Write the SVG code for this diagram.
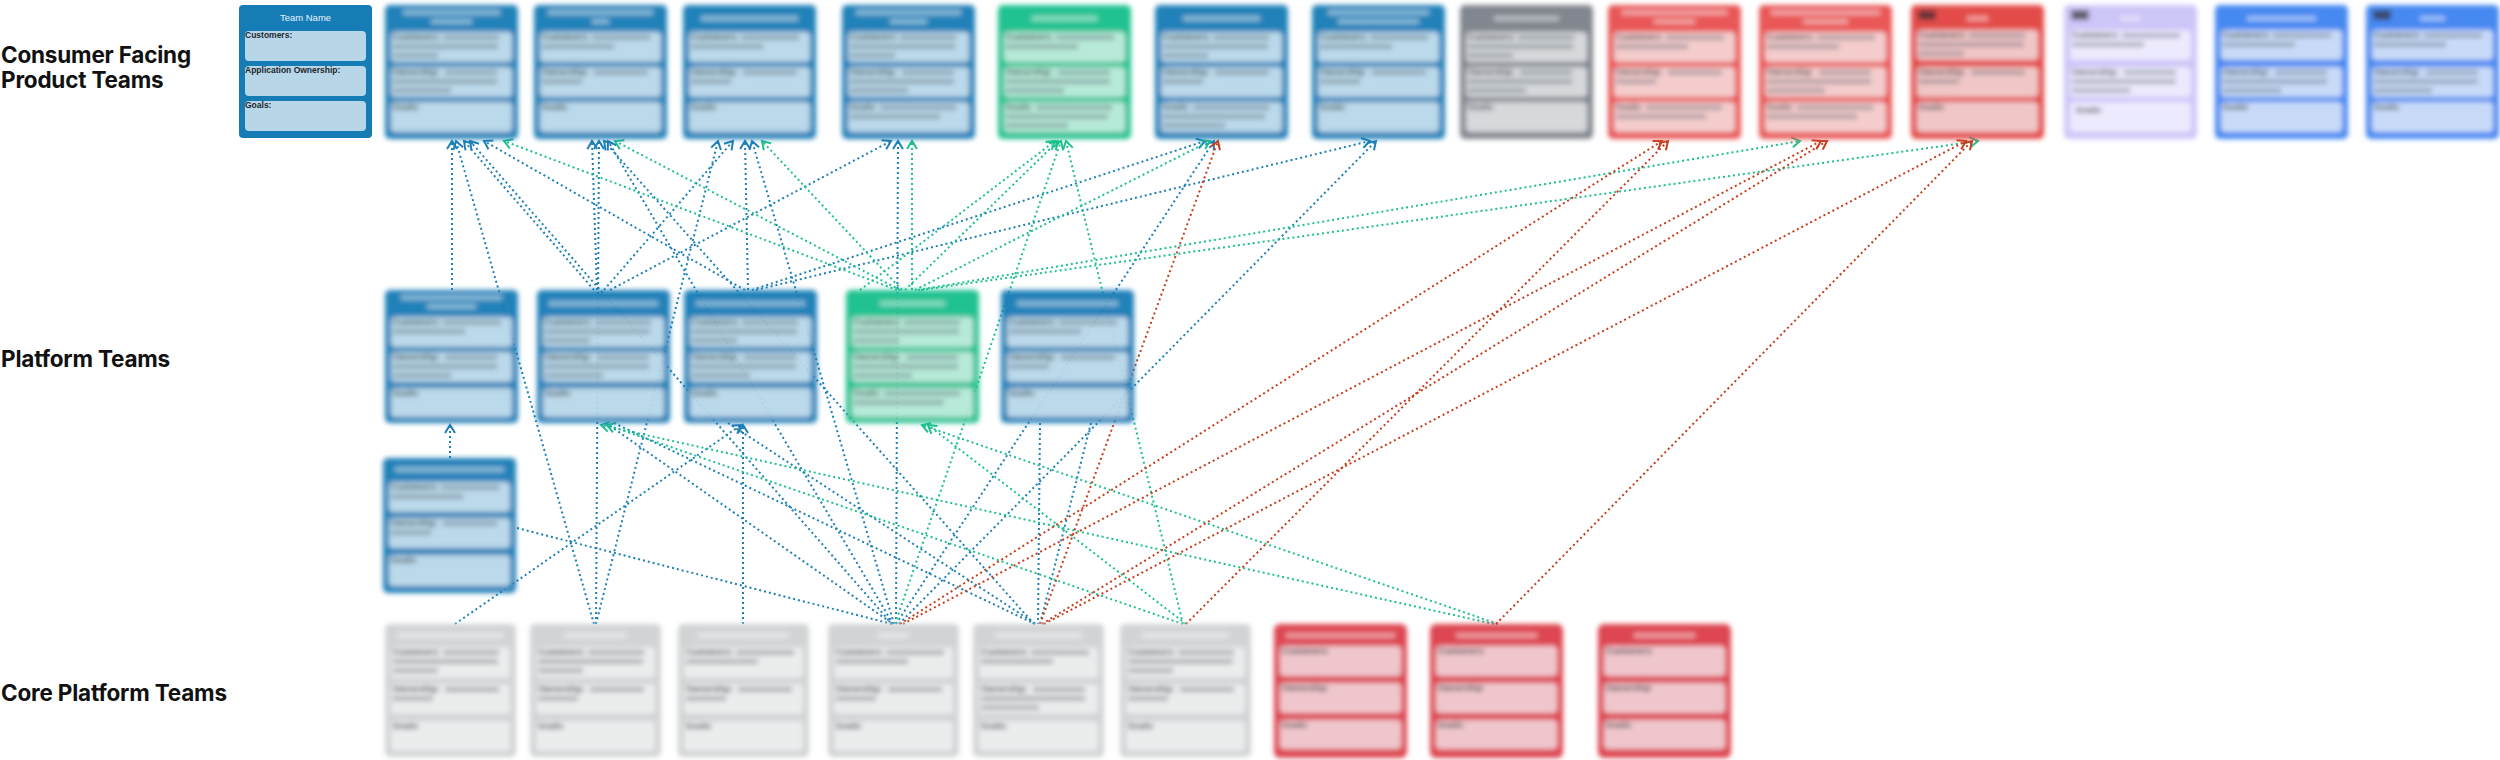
<svg xmlns="http://www.w3.org/2000/svg" xmlns:xlink="http://www.w3.org/1999/xlink" width="2500" height="760" viewBox="0 0 2500 760">
<style>
.rowlbl{font-family:Inter,"Liberation Sans",sans-serif;font-weight:700;font-size:22.5px;fill:#111;letter-spacing:-0.2px}
.lb{font-family:"Liberation Sans",Arial,sans-serif;font-weight:700;font-size:8.5px;fill:#1c262c}
.ttl{font-family:"Liberation Sans",Arial,sans-serif;font-size:9.5px;fill:#e8f3fa}
.sm{fill:#34444e;opacity:.34}
.st{fill:#fff;opacity:.45}
.tag{fill:#2e2226;opacity:.7}
.card{filter:url(#blur);opacity:.95}
.blue .bg{fill:#167cb6}.blue .in{fill:#b7d7e9}
.green .bg{fill:#17bf8c}.green .in{fill:#b4e9d7}
.grey .bg{fill:#7b8088}.grey .in{fill:#d4d6d9}
.red .bg{fill:#e84f4f}.red .in{fill:#f4caca}
.red2 .bg{fill:#e2423f}.red2 .in{fill:#f1c4c4}
.lav .bg{fill:#cbc3f8}.lav .in{fill:#ece9fd}
.bright .bg{fill:#3e83f1}.bright .in{fill:#c6d9f8}
.lgrey .bg{fill:#cfd1d3}.lgrey .in{fill:#eaebec}
.cred .bg{fill:#dc3e4a}.cred .in{fill:#efc4ca}
#connectors line{fill:none;stroke-width:2;stroke-dasharray:2 3}
.cb{stroke:#1f80b8}.cg{stroke:#1fc08f}.cr{stroke:#c43f1c}
.ab{marker-end:url(#mb)}.ag{marker-end:url(#mg)}.ar{marker-end:url(#mr)}
</style>
<defs>
<filter id="blur" x="-10%" y="-10%" width="120%" height="120%"><feGaussianBlur stdDeviation="2.4"/></filter>
<marker id="mb" viewBox="-10 -7 12 14" refX="0" refY="0" markerWidth="12" markerHeight="14" markerUnits="userSpaceOnUse" orient="auto"><path d="M-8,-5 L0,0 L-8,5" fill="none" stroke="#1f80b8" stroke-width="2"/></marker>
<marker id="mg" viewBox="-10 -7 12 14" refX="0" refY="0" markerWidth="12" markerHeight="14" markerUnits="userSpaceOnUse" orient="auto"><path d="M-8,-5 L0,0 L-8,5" fill="none" stroke="#1fc08f" stroke-width="2"/></marker>
<marker id="mr" viewBox="-10 -7 12 14" refX="0" refY="0" markerWidth="12" markerHeight="14" markerUnits="userSpaceOnUse" orient="auto"><path d="M-8,-5 L0,0 L-8,5" fill="none" stroke="#c43f1c" stroke-width="2"/></marker>
<g id="cA"><text class="lb" x="2" y="8">Customers:</text><rect class="sm" x="52" y="3" width="56" height="5"/><rect class="sm" x="2" y="12" width="105" height="5"/><rect class="sm" x="2" y="21" width="45" height="5"/></g>
<g id="cB"><text class="lb" x="2" y="8">Customers:</text><rect class="sm" x="52" y="3" width="58" height="5"/><rect class="sm" x="2" y="12" width="72" height="5"/></g>
<g id="oA"><text class="lb" x="2" y="8">Ownership:</text><rect class="sm" x="54" y="3" width="52" height="5"/><rect class="sm" x="2" y="12" width="104" height="5"/><rect class="sm" x="2" y="21" width="58" height="5"/></g>
<g id="oB"><text class="lb" x="2" y="8">Ownership:</text><rect class="sm" x="54" y="3" width="54" height="5"/><rect class="sm" x="2" y="12" width="40" height="5"/></g>
<g id="gA"><text class="lb" x="2" y="8">Goals:</text><rect class="sm" x="32" y="3" width="76" height="5"/><rect class="sm" x="2" y="12" width="90" height="5"/></g>
<g id="gB"><text class="lb" x="2" y="8">Goals:</text><rect class="sm" x="32" y="3" width="76" height="5"/><rect class="sm" x="2" y="12" width="102" height="5"/><rect class="sm" x="2" y="21" width="62" height="5"/></g>
<g id="cL"><text class="lb" x="2" y="8">Customers:</text></g>
<g id="oL"><text class="lb" x="2" y="8">Ownership:</text></g>
<g id="gL"><text class="lb" x="2" y="8">Goals:</text></g>
</defs>
<rect width="2500" height="760" fill="#fff"/>

<g id="row-labels">
<text class="rowlbl" x="1" y="63">Consumer Facing</text>
<text class="rowlbl" x="1" y="88">Product Teams</text>
<text class="rowlbl" x="1" y="367">Platform Teams</text>
<text class="rowlbl" x="1" y="701">Core Platform Teams</text>
</g>

<g id="connectors">
<line class="cb ab" x1="452" y1="290" x2="452" y2="141"/>
<line class="cb ab" x1="594" y1="624" x2="456" y2="141"/>
<line class="cb ab" x1="594" y1="290" x2="464" y2="141"/>
<line class="cb ab" x1="892" y1="624" x2="470" y2="141"/>
<line class="cb ab" x1="745" y1="290" x2="484" y2="141"/>
<line class="cb ab" x1="597" y1="290" x2="592" y2="141"/>
<line class="cb ab" x1="596" y1="624" x2="599" y2="141"/>
<line class="cb ab" x1="1034" y1="624" x2="604" y2="141"/>
<line class="cb ab" x1="893" y1="624" x2="608" y2="141"/>
<line class="cb ab" x1="596" y1="624" x2="718" y2="141"/>
<line class="cb ab" x1="604" y1="290" x2="733" y2="141"/>
<line class="cb ab" x1="748" y1="290" x2="745" y2="141"/>
<line class="cb ab" x1="894" y1="624" x2="752" y2="141"/>
<line class="cb ab" x1="743" y1="624" x2="743" y2="425"/>
<line class="cb ab" x1="610" y1="290" x2="891" y2="141"/>
<line class="cb ab" x1="896" y1="624" x2="898" y2="141"/>
<line class="cb ab" x1="752" y1="290" x2="1205" y2="141"/>
<line class="cb ab" x1="896" y1="624" x2="1214" y2="141"/>
<line class="cb ab" x1="756" y1="290" x2="1370" y2="141"/>
<line class="cb ab" x1="899" y1="624" x2="1376" y2="141"/>
<line class="cb ab" x1="450" y1="458" x2="450" y2="425"/>
<line class="cb ab" x1="455" y1="624" x2="741" y2="425"/>
<line class="cb" x1="517" y1="528" x2="892" y2="624"/>
<line class="cb" x1="606" y1="423" x2="893" y2="624"/>
<line class="cb" x1="614" y1="423" x2="1035" y2="624"/>
<line class="cb" x1="728" y1="423" x2="1036" y2="624"/>
<line class="cb" x1="1040" y1="423" x2="1038" y2="624"/>
<line class="cb" x1="1091" y1="423" x2="1040" y2="624"/>
<line class="cg ag" x1="897" y1="290" x2="504" y2="141"/>
<line class="cg ag" x1="900" y1="290" x2="615" y2="141"/>
<line class="cg ag" x1="902" y1="290" x2="762" y2="141"/>
<line class="cg ag" x1="912" y1="290" x2="912" y2="141"/>
<line class="cg ag" x1="905" y1="290" x2="1058" y2="141"/>
<line class="cg ag" x1="895" y1="624" x2="1061" y2="141"/>
<line class="cg ag" x1="1183" y1="624" x2="1066" y2="141"/>
<line class="cg ag" x1="860" y1="290" x2="1055" y2="141"/>
<line class="cg ag" x1="915" y1="290" x2="1210" y2="141"/>
<line class="cg ag" x1="918" y1="290" x2="1800" y2="141"/>
<line class="cg ag" x1="921" y1="290" x2="1978" y2="141"/>
<line class="cg ag" x1="1494" y1="624" x2="601" y2="425"/>
<line class="cg ag" x1="1183" y1="624" x2="607" y2="425"/>
<line class="cg ag" x1="1498" y1="624" x2="922" y2="425"/>
<line class="cg ag" x1="1186" y1="624" x2="928" y2="425"/>
<line class="cr ar" x1="1040" y1="624" x2="1218" y2="141"/>
<line class="cr ar" x1="900" y1="624" x2="1662" y2="141"/>
<line class="cr ar" x1="1186" y1="624" x2="1668" y2="141"/>
<line class="cr ar" x1="903" y1="624" x2="1821" y2="141"/>
<line class="cr ar" x1="1042" y1="624" x2="1827" y2="141"/>
<line class="cr ar" x1="1044" y1="624" x2="1966" y2="141"/>
<line class="cr ar" x1="1496" y1="624" x2="1972" y2="141"/>
</g>

<g id="legend" class="blue" transform="translate(239,5)">
<rect class="bg" width="133" height="133" rx="4"/>
<text class="ttl" x="66.5" y="16" text-anchor="middle">Team Name</text>
<rect class="in" x="6" y="26" width="121" height="30" rx="4"/>
<rect class="in" x="6" y="61" width="121" height="30" rx="4"/>
<rect class="in" x="6" y="96" width="121" height="30" rx="4"/>
<text class="lb" x="6" y="33">Customers:</text>
<text class="lb" x="6" y="68">Application Ownership:</text>
<text class="lb" x="6" y="103">Goals:</text>
</g>

<g id="t1" class="card blue" transform="translate(385,5)"><rect class="bg" width="133" height="134" rx="5"/><rect class="st" x="18" y="5" width="97" height="5"/><rect class="st" x="46" y="14" width="41" height="5"/><rect class="in" x="6" y="27" width="121" height="30" rx="4"/><rect class="in" x="6" y="62" width="121" height="30" rx="4"/><rect class="in" x="6" y="97" width="121" height="30" rx="4"/><use href="#cA" x="6" y="27"/><use href="#oA" x="6" y="62"/><use href="#gL" x="6" y="97"/></g>
<g id="t2" class="card blue" transform="translate(534,5)"><rect class="bg" width="133" height="134" rx="5"/><rect class="st" x="14" y="5" width="105" height="5"/><rect class="st" x="58" y="14" width="17" height="5"/><rect class="in" x="6" y="27" width="121" height="30" rx="4"/><rect class="in" x="6" y="62" width="121" height="30" rx="4"/><rect class="in" x="6" y="97" width="121" height="30" rx="4"/><use href="#cB" x="6" y="27"/><use href="#oB" x="6" y="62"/><use href="#gL" x="6" y="97"/></g>
<g id="t3" class="card blue" transform="translate(683,5)"><rect class="bg" width="133" height="134" rx="5"/><rect class="st" x="18" y="11" width="97" height="5"/><rect class="in" x="6" y="27" width="121" height="30" rx="4"/><rect class="in" x="6" y="62" width="121" height="30" rx="4"/><rect class="in" x="6" y="97" width="121" height="30" rx="4"/><use href="#cB" x="6" y="27"/><use href="#oB" x="6" y="62"/><use href="#gL" x="6" y="97"/></g>
<g id="t4" class="card blue" transform="translate(842,5)"><rect class="bg" width="133" height="134" rx="5"/><rect class="st" x="14" y="5" width="105" height="5"/><rect class="st" x="48" y="14" width="37" height="5"/><rect class="in" x="6" y="27" width="121" height="30" rx="4"/><rect class="in" x="6" y="62" width="121" height="30" rx="4"/><rect class="in" x="6" y="97" width="121" height="30" rx="4"/><use href="#cA" x="6" y="27"/><use href="#oA" x="6" y="62"/><use href="#gA" x="6" y="97"/></g>
<g id="t5" class="card green" transform="translate(998,5)"><rect class="bg" width="133" height="134" rx="5"/><rect class="st" x="34" y="11" width="65" height="5"/><rect class="in" x="6" y="27" width="121" height="30" rx="4"/><rect class="in" x="6" y="62" width="121" height="30" rx="4"/><rect class="in" x="6" y="97" width="121" height="30" rx="4"/><use href="#cB" x="6" y="27"/><use href="#oA" x="6" y="62"/><use href="#gB" x="6" y="97"/></g>
<g id="t6" class="card blue" transform="translate(1155,5)"><rect class="bg" width="133" height="134" rx="5"/><rect class="st" x="28" y="11" width="77" height="5"/><rect class="in" x="6" y="27" width="121" height="30" rx="4"/><rect class="in" x="6" y="62" width="121" height="30" rx="4"/><rect class="in" x="6" y="97" width="121" height="30" rx="4"/><use href="#cA" x="6" y="27"/><use href="#oB" x="6" y="62"/><use href="#gB" x="6" y="97"/></g>
<g id="t7" class="card blue" transform="translate(1312,5)"><rect class="bg" width="133" height="134" rx="5"/><rect class="st" x="16" y="5" width="101" height="5"/><rect class="st" x="26" y="14" width="81" height="5"/><rect class="in" x="6" y="27" width="121" height="30" rx="4"/><rect class="in" x="6" y="62" width="121" height="30" rx="4"/><rect class="in" x="6" y="97" width="121" height="30" rx="4"/><use href="#cB" x="6" y="27"/><use href="#oB" x="6" y="62"/><use href="#gL" x="6" y="97"/></g>
<g id="t8" class="card grey" transform="translate(1460,5)"><rect class="bg" width="133" height="134" rx="5"/><rect class="st" x="34" y="11" width="65" height="5"/><rect class="in" x="6" y="27" width="121" height="30" rx="4"/><rect class="in" x="6" y="62" width="121" height="30" rx="4"/><rect class="in" x="6" y="97" width="121" height="30" rx="4"/><use href="#cA" x="6" y="27"/><use href="#oA" x="6" y="62"/><use href="#gL" x="6" y="97"/></g>
<g id="t9" class="card red" transform="translate(1608,5)"><rect class="bg" width="133" height="134" rx="5"/><rect class="st" x="14" y="5" width="105" height="5"/><rect class="st" x="46" y="14" width="41" height="5"/><rect class="in" x="6" y="27" width="121" height="30" rx="4"/><rect class="in" x="6" y="62" width="121" height="30" rx="4"/><rect class="in" x="6" y="97" width="121" height="30" rx="4"/><use href="#cB" x="6" y="27"/><use href="#oB" x="6" y="62"/><use href="#gA" x="6" y="97"/></g>
<g id="t10" class="card red" transform="translate(1759,5)"><rect class="bg" width="133" height="134" rx="5"/><rect class="st" x="12" y="5" width="109" height="5"/><rect class="st" x="44" y="14" width="45" height="5"/><rect class="in" x="6" y="27" width="121" height="30" rx="4"/><rect class="in" x="6" y="62" width="121" height="30" rx="4"/><rect class="in" x="6" y="97" width="121" height="30" rx="4"/><use href="#cB" x="6" y="27"/><use href="#oA" x="6" y="62"/><use href="#gA" x="6" y="97"/></g>
<g id="t11" class="card red2" transform="translate(1911,5)"><rect class="bg" width="133" height="134" rx="5"/><rect class="tag" x="7" y="5" width="18" height="10" rx="2"/><rect class="st" x="56" y="11" width="21" height="5"/><rect class="in" x="6" y="25" width="121" height="30" rx="4"/><rect class="in" x="6" y="62" width="121" height="30" rx="4"/><rect class="in" x="6" y="97" width="121" height="30" rx="4"/><use href="#cA" x="6" y="25"/><use href="#oB" x="6" y="62"/><use href="#gL" x="6" y="97"/></g>
<g id="t12" class="card lav" transform="translate(2064,5)"><rect class="bg" width="133" height="134" rx="5"/><rect class="tag" x="7" y="5" width="18" height="10" rx="2"/><rect class="st" x="56" y="11" width="21" height="5"/><rect class="in" x="6" y="25" width="121" height="30" rx="4"/><rect class="in" x="6" y="62" width="121" height="30" rx="4"/><rect class="in" x="6" y="97" width="121" height="30" rx="4"/><use href="#cB" x="6" y="25"/><use href="#oA" x="6" y="62"/><use href="#gL" x="10" y="100"/></g>
<g id="t13" class="card bright" transform="translate(2215,5)"><rect class="bg" width="133" height="134" rx="5"/><rect class="st" x="32" y="11" width="69" height="5"/><rect class="in" x="6" y="25" width="121" height="30" rx="4"/><rect class="in" x="6" y="62" width="121" height="30" rx="4"/><rect class="in" x="6" y="97" width="121" height="30" rx="4"/><use href="#cB" x="6" y="25"/><use href="#oA" x="6" y="62"/><use href="#gL" x="6" y="97"/></g>
<g id="t14" class="card bright" transform="translate(2366,5)"><rect class="bg" width="133" height="134" rx="5"/><rect class="tag" x="7" y="5" width="18" height="10" rx="2"/><rect class="st" x="54" y="11" width="25" height="5"/><rect class="in" x="6" y="25" width="121" height="30" rx="4"/><rect class="in" x="6" y="62" width="121" height="30" rx="4"/><rect class="in" x="6" y="97" width="121" height="30" rx="4"/><use href="#cB" x="6" y="25"/><use href="#oA" x="6" y="62"/><use href="#gL" x="6" y="97"/></g>

<g id="p1" class="card blue" transform="translate(385,290)"><rect class="bg" width="133" height="133" rx="5"/><rect class="st" x="16" y="5" width="101" height="5"/><rect class="st" x="42" y="14" width="49" height="5"/><rect class="in" x="6" y="27" width="121" height="30" rx="4"/><rect class="in" x="6" y="62" width="121" height="30" rx="4"/><rect class="in" x="6" y="98" width="121" height="29" rx="4"/><use href="#cB" x="6" y="27"/><use href="#oA" x="6" y="62"/><use href="#gL" x="6" y="98"/></g>
<g id="p2" class="card blue" transform="translate(537,290)"><rect class="bg" width="133" height="133" rx="5"/><rect class="st" x="12" y="11" width="109" height="5"/><rect class="in" x="6" y="27" width="121" height="30" rx="4"/><rect class="in" x="6" y="62" width="121" height="30" rx="4"/><rect class="in" x="6" y="98" width="121" height="29" rx="4"/><use href="#cA" x="6" y="27"/><use href="#oA" x="6" y="62"/><use href="#gL" x="6" y="98"/></g>
<g id="p3" class="card blue" transform="translate(684,290)"><rect class="bg" width="133" height="133" rx="5"/><rect class="st" x="12" y="11" width="109" height="5"/><rect class="in" x="6" y="27" width="121" height="30" rx="4"/><rect class="in" x="6" y="62" width="121" height="30" rx="4"/><rect class="in" x="6" y="98" width="121" height="29" rx="4"/><use href="#cA" x="6" y="27"/><use href="#oA" x="6" y="62"/><use href="#gL" x="6" y="98"/></g>
<g id="p4" class="card green" transform="translate(846,290)"><rect class="bg" width="133" height="133" rx="5"/><rect class="st" x="34" y="11" width="65" height="5"/><rect class="in" x="6" y="27" width="121" height="30" rx="4"/><rect class="in" x="6" y="62" width="121" height="30" rx="4"/><rect class="in" x="6" y="98" width="121" height="29" rx="4"/><use href="#cA" x="6" y="27"/><use href="#oA" x="6" y="62"/><use href="#gA" x="6" y="98"/></g>
<g id="p5" class="card blue" transform="translate(1001,290)"><rect class="bg" width="133" height="133" rx="5"/><rect class="st" x="16" y="11" width="101" height="5"/><rect class="in" x="6" y="27" width="121" height="30" rx="4"/><rect class="in" x="6" y="62" width="121" height="30" rx="4"/><rect class="in" x="6" y="98" width="121" height="29" rx="4"/><use href="#cB" x="6" y="27"/><use href="#oB" x="6" y="62"/><use href="#gL" x="6" y="98"/></g>
<g id="p6" class="card blue" transform="translate(383,458)"><rect class="bg" width="133" height="135" rx="5"/><rect class="st" x="12" y="9" width="109" height="5"/><rect class="in" x="6" y="24" width="121" height="30" rx="4"/><rect class="in" x="6" y="60" width="121" height="30" rx="4"/><rect class="in" x="6" y="97" width="121" height="31" rx="4"/><use href="#cB" x="6" y="24"/><use href="#oB" x="6" y="60"/><use href="#gL" x="6" y="97"/></g>

<g id="k1" class="card lgrey" transform="translate(385,624)"><rect class="bg" width="131" height="133" rx="5"/><rect class="st" x="12" y="9" width="107" height="5"/><rect class="in" x="6" y="23" width="119" height="31" rx="4"/><rect class="in" x="6" y="60" width="119" height="30" rx="4"/><rect class="in" x="6" y="97" width="119" height="30" rx="4"/><use href="#cA" x="6" y="23"/><use href="#oB" x="6" y="60"/><use href="#gL" x="6" y="97"/></g>
<g id="k2" class="card lgrey" transform="translate(530,624)"><rect class="bg" width="131" height="133" rx="5"/><rect class="st" x="34" y="9" width="63" height="5"/><rect class="in" x="6" y="23" width="119" height="31" rx="4"/><rect class="in" x="6" y="60" width="119" height="30" rx="4"/><rect class="in" x="6" y="97" width="119" height="30" rx="4"/><use href="#cA" x="6" y="23"/><use href="#oB" x="6" y="60"/><use href="#gL" x="6" y="97"/></g>
<g id="k3" class="card lgrey" transform="translate(678,624)"><rect class="bg" width="131" height="133" rx="5"/><rect class="st" x="20" y="9" width="91" height="5"/><rect class="in" x="6" y="23" width="119" height="31" rx="4"/><rect class="in" x="6" y="60" width="119" height="30" rx="4"/><rect class="in" x="6" y="97" width="119" height="30" rx="4"/><use href="#cB" x="6" y="23"/><use href="#oB" x="6" y="60"/><use href="#gL" x="6" y="97"/></g>
<g id="k4" class="card lgrey" transform="translate(828,624)"><rect class="bg" width="131" height="133" rx="5"/><rect class="st" x="50" y="9" width="31" height="5"/><rect class="in" x="6" y="23" width="119" height="31" rx="4"/><rect class="in" x="6" y="60" width="119" height="30" rx="4"/><rect class="in" x="6" y="97" width="119" height="30" rx="4"/><use href="#cB" x="6" y="23"/><use href="#oB" x="6" y="60"/><use href="#gL" x="6" y="97"/></g>
<g id="k5" class="card lgrey" transform="translate(973,624)"><rect class="bg" width="131" height="133" rx="5"/><rect class="st" x="22" y="9" width="87" height="5"/><rect class="in" x="6" y="23" width="119" height="31" rx="4"/><rect class="in" x="6" y="60" width="119" height="30" rx="4"/><rect class="in" x="6" y="97" width="119" height="30" rx="4"/><use href="#cB" x="6" y="23"/><use href="#oA" x="6" y="60"/><use href="#gL" x="6" y="97"/></g>
<g id="k6" class="card lgrey" transform="translate(1120,624)"><rect class="bg" width="131" height="133" rx="5"/><rect class="st" x="22" y="9" width="87" height="5"/><rect class="in" x="6" y="23" width="119" height="31" rx="4"/><rect class="in" x="6" y="60" width="119" height="30" rx="4"/><rect class="in" x="6" y="97" width="119" height="30" rx="4"/><use href="#cA" x="6" y="23"/><use href="#oB" x="6" y="60"/><use href="#gL" x="6" y="97"/></g>
<g id="r1" class="card cred" transform="translate(1274,624)"><rect class="bg" width="133" height="134" rx="6"/><rect class="st" x="12" y="9" width="109" height="5"/><rect class="in" x="6" y="22" width="121" height="30" rx="4"/><rect class="in" x="6" y="59" width="121" height="30" rx="4"/><rect class="in" x="6" y="96" width="121" height="29" rx="4"/><use href="#cL" x="6" y="22"/><use href="#oL" x="6" y="59"/><use href="#gL" x="6" y="96"/></g>
<g id="r2" class="card cred" transform="translate(1430,624)"><rect class="bg" width="133" height="134" rx="6"/><rect class="st" x="26" y="9" width="81" height="5"/><rect class="in" x="6" y="22" width="121" height="30" rx="4"/><rect class="in" x="6" y="59" width="121" height="30" rx="4"/><rect class="in" x="6" y="96" width="121" height="29" rx="4"/><use href="#cL" x="6" y="22"/><use href="#oL" x="6" y="59"/><use href="#gL" x="6" y="96"/></g>
<g id="r3" class="card cred" transform="translate(1598,624)"><rect class="bg" width="133" height="134" rx="6"/><rect class="st" x="36" y="9" width="61" height="5"/><rect class="in" x="6" y="22" width="121" height="30" rx="4"/><rect class="in" x="6" y="59" width="121" height="30" rx="4"/><rect class="in" x="6" y="96" width="121" height="29" rx="4"/><use href="#cL" x="6" y="22"/><use href="#oL" x="6" y="59"/><use href="#gL" x="6" y="96"/></g>
</svg>
